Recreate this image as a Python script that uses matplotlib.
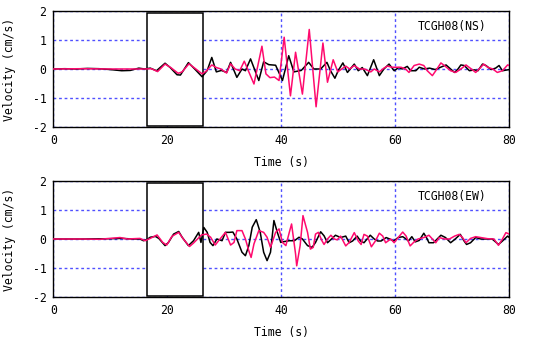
import matplotlib.pyplot as plt
from matplotlib.patches import Rectangle

plt.rcParams['font.family'] = ['DejaVu Sans Mono']
plt.rcParams['axes.unicode_minus'] = False

# NS component: observed (black) and synthetic (pink) velocity, vertices (s, cm/s)
ns_obs_t = [0, 2, 4, 6, 8, 10, 12, 13.5, 15, 16, 17.0, 18.1, 19.6, 20.5, 21.7, 22.3, 23.7, 24.8,
            26.1, 27.0, 27.8, 28.6, 29.5, 30.4, 31.1, 32.2, 33.1, 33.7, 34.6, 36.05, 36.9, 37.8,
            39.0, 40.2, 41.3, 42.2, 43.5, 44.8, 45.7, 46.9, 48.0, 48.6, 49.4, 50.0, 50.8, 51.6,
            52.8, 53.5, 54.2, 55.1, 56.2, 57.2, 58.0, 58.9, 59.8, 60.6, 61.2, 62.1, 62.7, 63.6,
            64.2, 65.1, 66.0, 67.0, 68.9, 69.7, 70.4, 71.0, 71.5, 72.1, 73.0, 73.9, 74.5, 75.3,
            75.9, 76.8, 77.6, 78.2, 78.8, 80]
ns_obs_v = [0, 0.01, 0, 0.02, 0.01, -0.02, -0.06, -0.05, 0.03, 0.0, 0.03, -0.06, 0.2, 0.05, -0.2,
            -0.21, 0.22, 0.0, -0.27, -0.05, 0.40, -0.1, -0.05, -0.12, 0.23, -0.29, 0.0, -0.06,
            0.35, -0.4, 0.25, 0.15, 0.13, -0.4, 0.46, -0.1, -0.05, 0.23, 0.0, 0.0, 0.23, -0.05,
            -0.32, -0.05, 0.21, -0.12, 0.17, -0.06, 0.05, -0.23, 0.32, -0.23, 0.0, 0.17, -0.06,
            0.05, 0.0, 0.09, -0.06, -0.06, 0.06, 0.0, 0.03, -0.02, 0.14, 0.0, -0.12, 0.0, 0.14,
            0.12, -0.06, -0.03, -0.06, 0.17, 0.12, -0.02, 0.03, 0.12, -0.06, -0.02]

ns_syn_t = [0, 5, 10, 14, 16, 17.2, 18.3, 19.6, 20.6, 21.9, 22.6, 23.8, 25.0, 26.1, 26.8, 27.8,
            28.6, 29.4, 30.4, 31.1, 31.9, 32.7, 33.5, 35.2, 36.6, 37.3, 38.0, 38.8, 39.6, 40.5,
            41.6, 42.5, 43.7, 44.9, 46.1, 47.3, 48.1, 49.1, 49.9, 50.6, 51.3, 52.0, 52.8, 53.7,
            54.6, 55.7, 56.3, 57.2, 58.0, 58.6, 59.5, 61.0, 61.8, 62.4, 63.3, 64.2, 65.0, 65.6,
            66.5, 67.1, 68.0, 68.6, 69.7, 70.6, 71.5, 72.4, 73.2, 74.1, 75.0, 75.5, 76.2, 77.1,
            77.9, 78.8, 79.7, 80]
ns_syn_v = [0, 0.01, 0.0, 0.0, 0.0, 0.01, -0.09, 0.17, 0.05, -0.15, -0.1, 0.18, 0.0, -0.17,
            -0.08, 0.14, 0.05, 0.0, -0.14, 0.18, 0.0, -0.06, 0.27, -0.52, 0.79, -0.17, -0.3,
            -0.28, -0.4, 1.1, -0.93, 0.58, -0.87, 1.37, -1.31, 0.9, -0.46, 0.32, -0.1, 0.0, 0.1,
            0.0, 0.12, 0.0, 0.0, -0.1, 0.0, -0.1, 0.03, 0.1, 0.06, 0.06, 0.0, -0.12, 0.12, 0.17,
            0.12, -0.06, -0.23, -0.06, 0.21, 0.12, -0.06, -0.12, 0.0, 0.14, 0.02, -0.12, 0.06,
            0.17, 0.06, 0.0, -0.12, -0.06, 0.14, 0.12]

# EW component
ew_obs_t = [0, 5, 10, 12, 14, 15.2, 15.8, 16.4, 17.0, 17.9, 18.5, 19.6, 20.2, 21.1, 22.0, 22.6,
            23.7, 24.6, 25.5, 25.9, 26.4, 27.0, 27.5, 28.0, 28.7, 29.6, 30.2, 30.9, 31.5, 32.2,
            33.1, 33.7, 34.3, 34.9, 35.6, 36.3, 36.9, 37.5, 38.1, 38.7, 39.3, 39.9, 40.5, 41.4,
            42.3, 43.1, 43.7, 44.6, 45.4, 46.0, 46.9, 47.5, 48.1, 48.7, 49.5, 50.4, 51.3, 51.9,
            52.5, 53.3, 53.9, 54.5, 55.6, 56.3, 56.9, 57.5, 58.4, 59.0, 59.7, 60.5, 61.3, 61.9,
            62.3, 62.9, 63.5, 64.2, 65.0, 65.6, 65.9, 66.7, 68.0, 68.8, 69.7, 70.4, 71.4, 72.0,
            72.5, 73.2, 74.1, 75.0, 75.9, 77.0, 78.1, 78.8, 79.7, 80]
ew_obs_v = [0, 0.0, 0.01, 0.02, 0.0, 0.0, -0.06, -0.02, 0.06, 0.09, 0.02, -0.23, -0.12, 0.17,
            0.26, 0.06, -0.23, -0.06, 0.23, -0.12, 0.4, 0.23, -0.12, -0.23, 0.0, -0.06, 0.23,
            0.23, 0.24, 0.0, -0.46, -0.58, -0.23, 0.41, 0.67, 0.23, -0.46, -0.75, -0.46, 0.64,
            0.23, -0.12, -0.09, -0.06, -0.06, 0.06, 0.0, -0.23, -0.29, -0.12, 0.25, 0.11, -0.13,
            -0.02, 0.13, 0.05, 0.1, -0.13, -0.07, 0.1, -0.07, -0.13, 0.13, 0.0, -0.07, -0.07,
            0.05, 0.0, -0.07, 0.05, 0.08, 0.0, -0.07, 0.08, -0.1, -0.05, 0.2, 0.0, -0.13, -0.13,
            0.13, 0.05, -0.13, -0.02, 0.16, -0.05, -0.19, -0.13, 0.05, 0.0, 0.0, 0.0, -0.19,
            -0.07, 0.1, 0.05]

ew_syn_t = [0, 5, 8, 10, 11.7, 13, 15.2, 16.1, 17.0, 18.2, 19.2, 19.9, 20.8, 22.0, 22.8, 23.9,
            24.6, 26.0, 26.9, 27.6, 28.4, 29.0, 30.2, 31.1, 31.7, 32.2, 33.1, 33.7, 34.3, 34.7,
            35.2, 36.05, 36.9, 37.5, 38.1, 39.0, 39.6, 40.2, 40.8, 41.4, 41.8, 42.5, 42.7, 43.3,
            43.8, 44.6, 45.1, 45.6, 46.0, 46.5, 47.1, 47.5, 48.1, 48.7, 49.3, 49.8, 50.4, 51.3,
            51.9, 52.8, 53.5, 54.0, 54.5, 55.1, 55.8, 56.5, 57.2, 57.8, 58.3, 59.2, 59.8, 60.5,
            61.3, 61.9, 62.6, 63.3, 64.0, 65.0, 65.9, 66.5, 67.1, 67.7, 68.6, 69.5, 70.4, 71.2,
            71.8, 72.4, 73.2, 74.1, 75.0, 76.2, 77.3, 78.1, 78.8, 79.4, 80]
ew_syn_v = [0, 0.0, -0.01, 0.02, 0.05, 0.0, 0.02, -0.06, 0.02, 0.14, -0.12, -0.21, 0.09, 0.23,
            0.0, -0.26, -0.14, 0.14, 0.17, 0.06, -0.21, -0.06, 0.23, -0.21, -0.12, 0.29, 0.29,
            0.0, -0.41, -0.64, -0.17, 0.29, 0.23, 0.06, -0.29, 0.23, 0.35, -0.12, -0.23, 0.23,
            0.52, -0.52, -0.93, -0.23, 0.81, 0.23, -0.35, -0.29, 0.17, 0.23, -0.05, -0.19, 0.0,
            0.13, 0.0, -0.03, 0.1, -0.24, -0.12, 0.22, -0.07, -0.19, 0.16, 0.1, -0.27, -0.07,
            0.2, 0.1, -0.13, 0.0, -0.13, 0.05, 0.24, 0.1, -0.24, -0.1, 0.0, 0.05, 0.13, 0.0,
            -0.13, 0.05, 0.0, 0.0, 0.1, 0.16, 0.05, -0.13, 0.02, 0.08, 0.05, 0.01, 0.0, -0.22,
            0.0, 0.22, 0.17]

stations = ['TCGH08(NS)', 'TCGH08(EW)']
series = [(ns_obs_t, ns_obs_v, ns_syn_t, ns_syn_v),
          (ew_obs_t, ew_obs_v, ew_syn_t, ew_syn_v)]

# time window marked by the box
win_start, win_end = 16.4, 26.2

x_ticks = [0, 20, 40, 60, 80]
y_ticks = [-2, -1, 0, 1, 2]

fig = plt.figure(figsize=(5.36, 3.40), dpi=100)
axes = [fig.add_axes([0.0995, 0.6274, 0.8507, 0.3394]),
        fig.add_axes([0.0995, 0.1274, 0.8507, 0.3394])]

for ax, name, (ot, ov, st, sv) in zip(axes, stations, series):
    ax.set_xlim(0, 80)
    ax.set_ylim(-2, 2)
    ax.set_xticks(x_ticks)
    ax.set_yticks(y_ticks)
    ax.tick_params(length=0, labelsize=8.3, pad=5)
    ax.grid(True, color='#5050ff', linestyle=(0, (2, 2)), linewidth=1.0)
    ax.set_axisbelow(True)
    for s in ax.spines.values():
        s.set_linewidth(1.0)

    ax.add_patch(Rectangle((win_start, -1.98), win_end - win_start, 3.91,
                           facecolor='white', edgecolor='black', linewidth=1.1, zorder=1))

    ax.plot(ot, ov, color='black', linewidth=1.1, zorder=3)
    ax.plot(st, sv, color='#ff0a6e', linewidth=1.1, zorder=4)

    ax.text(0.951, 0.867, name, transform=ax.transAxes, ha='right', va='center', fontsize=8.3)
    ax.set_xlabel('Time (s)', fontsize=8.3, labelpad=7)
    ax.set_ylabel('Velocity (cm/s)', fontsize=8.3, labelpad=12)

fig.savefig('out.png', dpi=100)
